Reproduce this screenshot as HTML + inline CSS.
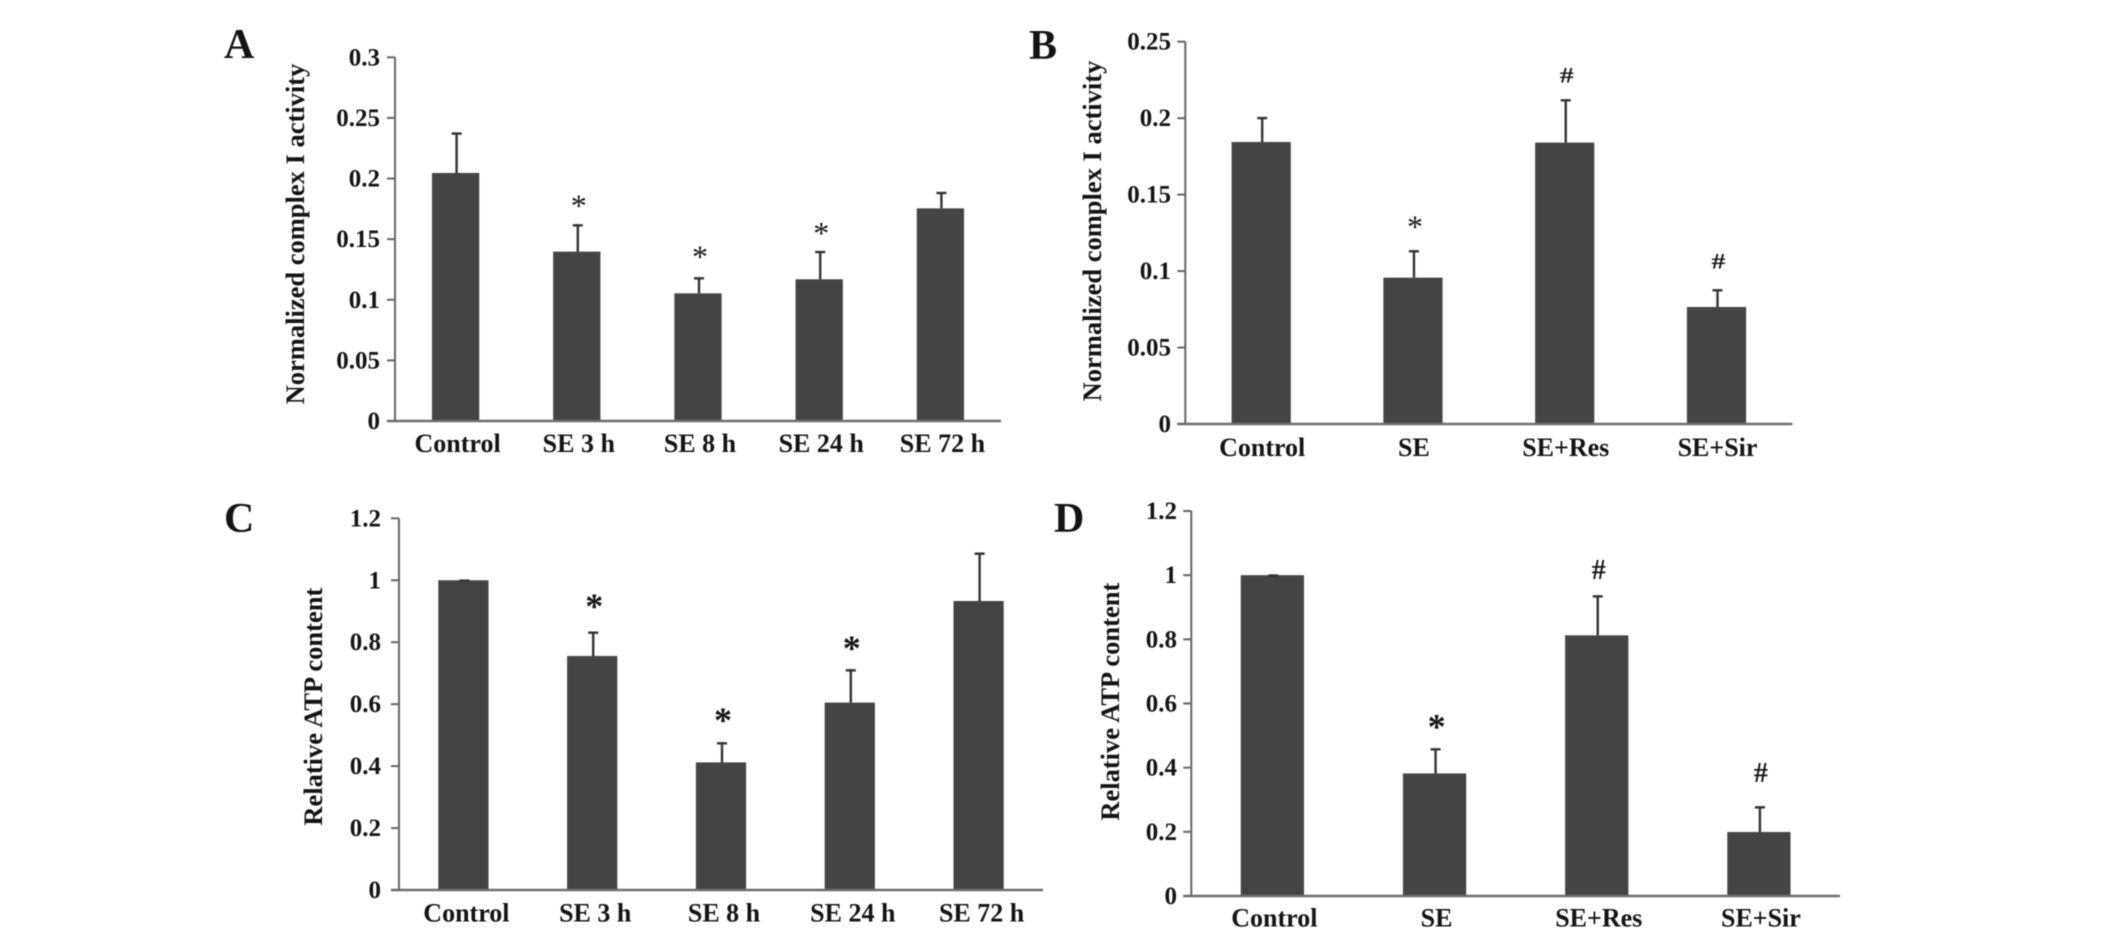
<!DOCTYPE html>
<html lang="en">
<head>
<meta charset="utf-8">
<title>Complex I activity and ATP content</title>
<style>
html,body{margin:0;padding:0;background:#fff;width:2126px;height:945px;overflow:hidden}
svg{display:block;filter:blur(0.5px)}
text{font-family:"Liberation Serif",serif;font-weight:bold;fill:#141414}
</style>
</head>
<body>
<svg id="figure" xmlns="http://www.w3.org/2000/svg" width="2126" height="945" viewBox="0 0 2126 945"></svg>
<script>
var timeCategories = ['Control', 'SE 3 h', 'SE 8 h', 'SE 24 h', 'SE 72 h'];
var treatmentCategories = ['Control', 'SE', 'SE+Res', 'SE+Sir'];

var panelAValues = [0.2046, 0.1397, 0.1053, 0.1169, 0.1754];
var panelAErrors = [0.0333, 0.0225, 0.0132, 0.0233, 0.0135];
var panelAMarks = ['', '*', '*', '*', ''];
var panelATicks = ['0', '0.05', '0.1', '0.15', '0.2', '0.25', '0.3'];

var panelBValues = [0.1844, 0.0957, 0.1840, 0.0765];
var panelBErrors = [0.0163, 0.0179, 0.0283, 0.0116];
var panelBMarks = ['', '*', '#', '#'];
var panelBTicks = ['0', '0.05', '0.1', '0.15', '0.2', '0.25'];

var panelCValues = [1.0, 0.7555, 0.412, 0.605, 0.933];
var panelCErrors = [0.002, 0.0785, 0.0648, 0.1074, 0.156];
var panelCMarks = ['', '*', '*', '*', ''];
var panelCTicks = ['0', '0.2', '0.4', '0.6', '0.8', '1', '1.2'];

var panelDValues = [1.0, 0.382, 0.8125, 0.1995];
var panelDErrors = [0.002, 0.0783, 0.1245, 0.08];
var panelDMarks = ['', '*', '#', '#'];
var panelDTicks = ['0', '0.2', '0.4', '0.6', '0.8', '1', '1.2'];

var NS = 'http://www.w3.org/2000/svg';
var root = document.getElementById('figure');

function mk(tag, parent, attrs, txt) {
  var e = document.createElementNS(NS, tag);
  for (var k in attrs) e.setAttribute(k, attrs[k]);
  if (txt !== undefined) e.textContent = txt;
  parent.appendChild(e);
  return e;
}

function drawPanel(cfg) {
  var g = mk('g', root, {});
  
  

  var maxV = parseFloat(cfg.ticks[cfg.ticks.length - 1]);
  function yScale(v) { return cfg.y0 - (v / maxV) * (cfg.y0 - cfg.top); }
  var band = (cfg.right - cfg.left) / cfg.categories.length;
  function xScale(i) { return cfg.left + band * (i + 0.5); }

  var letter = mk('text', g, {x: cfg.letterX, y: cfg.letterY, 'font-size': 42}, cfg.letter);
  
  

  var title = mk('text', g, {
    transform: 'translate(' + cfg.titleX + ',' + cfg.titleY + ') rotate(-90)',
    'text-anchor': 'middle', 'font-size': 26.5
  }, cfg.yTitle);
  
  

  cfg.categories.forEach(function (c, i) {
    var v = cfg.values[i];
    var cx = xScale(i);
    var w = band * 0.39;
    var bar = mk('rect', g, {x: cx - w / 2, y: yScale(v), width: w, height: cfg.y0 - yScale(v), fill: '#444444'});
    
    

    var topY = yScale(v + cfg.errors[i]);
    var eb = mk('line', g, {x1: cx + 1, x2: cx + 1, y1: yScale(v), y2: topY, stroke: '#333', 'stroke-width': 2.4});
    
    
    var cap = mk('line', g, {x1: cx - 4, x2: cx + 6, y1: topY + 1, y2: topY + 1, stroke: '#333', 'stroke-width': 2.4});
    
    

    var mark = cfg.marks[i];
    if (mark) {
      var my = topY - cfg.markGaps[i];
      var fs, tf, weight;
      if (mark === '*') {
        fs = cfg.markSize;
        weight = cfg.markWeight;
        tf = 'translate(' + (cx + 2) + ',' + (my + (weight === 'bold' ? 0.31 : 0.38) * fs) + ')';
      } else {
        fs = cfg.hashSize;
        weight = 'bold';
        tf = 'translate(' + (cx + 2) + ',' + (my + 0.28 * fs * cfg.hashSquash) + ') scale(1,' + cfg.hashSquash + ')';
      }
      var mt = mk('text', g, {transform: tf, 'text-anchor': 'middle', 'font-size': fs,
        style: 'font-weight:' + weight}, mark);
      
      
    }

    var lab = mk('text', g, {x: cx + cfg.labelDx, y: cfg.labelY, 'text-anchor': 'middle', 'font-size': 26}, c);
    
    
  });

  var yAxis = mk('line', g, {x1: cfg.left, x2: cfg.left, y1: cfg.top, y2: cfg.y0, stroke: '#666', 'stroke-width': 2});
  
  
  var xAxis = mk('line', g, {x1: cfg.left - 8, x2: cfg.right, y1: cfg.y0, y2: cfg.y0, stroke: '#6e6e6e', 'stroke-width': 2.4});
  
  

  cfg.ticks.forEach(function (t) {
    var y = yScale(parseFloat(t));
    var tick = mk('line', g, {x1: cfg.left - 8, x2: cfg.left, y1: y, y2: y, stroke: '#666', 'stroke-width': 2});
    
    
    var tl = mk('text', g, {x: cfg.tickX, y: y + 8, 'text-anchor': 'end', 'font-size': 25}, t);
    
    
  });
}

drawPanel({letter: 'A', letterX: 224, letterY: 58, yTitle: 'Normalized complex I activity', titleX: 304, titleY: 234,
  left: 395, right: 1001, top: 57.3, y0: 421, tickX: 380, labelY: 452, labelDx: 2,
  categories: timeCategories, values: panelAValues, errors: panelAErrors, marks: panelAMarks, ticks: panelATicks,
  markGaps: [0, 20, 22, 19, 0], markSize: 32, markWeight: 'normal', hashSize: 28, hashSquash: 0.8});

drawPanel({letter: 'B', letterX: 1029, letterY: 59, yTitle: 'Normalized complex I activity', titleX: 1101, titleY: 231,
  left: 1185.3, right: 1792.4, top: 41.7, y0: 424, tickX: 1171, labelY: 456, labelDx: 1,
  categories: treatmentCategories, values: panelBValues, errors: panelBErrors, marks: panelBMarks, ticks: panelBTicks,
  markGaps: [0, 25, 23, 27], markSize: 32, markWeight: 'normal', hashSize: 28, hashSquash: 0.8});

drawPanel({letter: 'C', letterX: 224, letterY: 532, yTitle: 'Relative ATP content', titleX: 322, titleY: 706.7,
  left: 399, right: 1043, top: 518.3, y0: 890, tickX: 381, labelY: 921.7, labelDx: 3,
  categories: timeCategories, values: panelCValues, errors: panelCErrors, marks: panelCMarks, ticks: panelCTicks,
  markGaps: [0, 24.7, 21.6, 20.3, 0], markSize: 36, markWeight: 'bold', hashSize: 28, hashSquash: 1});

drawPanel({letter: 'D', letterX: 1054, letterY: 532, yTitle: 'Relative ATP content', titleX: 1119, titleY: 701.7,
  left: 1191.3, right: 1840, top: 511, y0: 896, tickX: 1177, labelY: 926.7, labelDx: 2,
  categories: treatmentCategories, values: panelDValues, errors: panelDErrors, marks: panelDMarks, ticks: panelDTicks,
  markGaps: [0, 21, 24, 32], markSize: 36, markWeight: 'bold', hashSize: 28, hashSquash: 1});
</script>
</body>
</html>
